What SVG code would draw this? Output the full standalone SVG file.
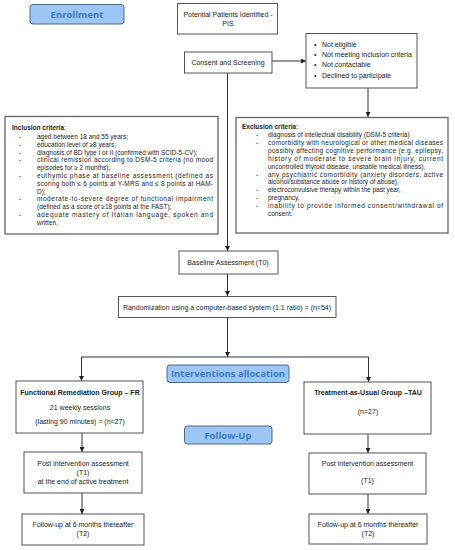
<svg xmlns="http://www.w3.org/2000/svg" width="455" height="550" viewBox="0 0 455 550">
<style>
.bg{fill:#fff}
.box{fill:#fff;stroke:#555;stroke-width:1}
.crit{fill:#fff;stroke:#666;stroke-width:1.3}
.tab{fill:#9dc6f4;stroke:#4a6a8c;stroke-width:1}
.tabt{font-family:"Open Sans","Liberation Sans",sans-serif;font-weight:bold;font-size:9.5px;fill:#3a7cc0;text-anchor:middle}
.t{font-family:"Liberation Sans",Arial,sans-serif;font-size:7px;fill:#222}
.c{text-anchor:middle}
.b{font-weight:bold}
.s{font-family:"Liberation Sans",Arial,sans-serif;font-size:6.5px;fill:#222}
.ln{fill:none;stroke:#333;stroke-width:1}
</style>
<defs>
<marker id="ah" viewBox="0 0 8 8" refX="8" refY="4" markerWidth="5" markerHeight="5" orient="auto" markerUnits="userSpaceOnUse">
<path d="M0,0 L8,4 L0,8 Z" fill="#222"/>
</marker>
</defs>
<rect class="bg" x="0" y="0" width="455" height="550"/>

<g id="connectors">
<line class="ln" x1="272" y1="61" x2="306" y2="61" marker-end="url(#ah)"/>
<line class="ln" x1="368" y1="88" x2="368" y2="117" marker-end="url(#ah)"/>
<line class="ln" x1="227.5" y1="73" x2="227.5" y2="251" marker-end="url(#ah)"/>
<line class="ln" x1="227.5" y1="274" x2="227.5" y2="296" marker-end="url(#ah)"/>
<line class="ln" x1="227.5" y1="317" x2="227.5" y2="357" marker-end="url(#ah)"/>
<polyline class="ln" points="81.5,381 81.5,357 368.5,357 368.5,382"/>
<line class="ln" x1="81.5" y1="370" x2="81.5" y2="381" marker-end="url(#ah)"/>
<line class="ln" x1="368.5" y1="370" x2="368.5" y2="382" marker-end="url(#ah)"/>
<line class="ln" x1="82" y1="433" x2="82" y2="452" marker-end="url(#ah)"/>
<line class="ln" x1="82" y1="493" x2="82" y2="514" marker-end="url(#ah)"/>
<line class="ln" x1="368" y1="434" x2="368" y2="453" marker-end="url(#ah)"/>
<line class="ln" x1="368" y1="494" x2="368" y2="514" marker-end="url(#ah)"/>
</g>

<g id="enrollment">
<rect class="tab" x="30" y="4.5" width="94" height="19.5" rx="3"/>
<text class="tabt" x="77" y="17.5">Enrollment</text>
</g>

<g id="potential">
<rect class="box" x="177.5" y="3.5" width="100" height="30.5"/>
<text class="t c" x="228" y="16.5">Potential Patients Identified -</text>
<text class="t c" x="228" y="25.5">PIS</text>
</g>

<g id="consent">
<rect class="box" x="184.5" y="52" width="87.5" height="21"/>
<text class="t c" x="228" y="65">Consent and Screening</text>
</g>

<g id="excluded">
<rect class="box" x="306" y="33.5" width="111" height="54.5"/>
<g class="t">
<text x="314" y="46.5">•</text><text x="322" y="46.5">Not eligible</text>
<text x="314" y="56.5">•</text><text x="322" y="56.5">Not meeting inclusion criteria</text>
<text x="314" y="67">•</text><text x="322" y="67">Not contactable</text>
<text x="314" y="77.5">•</text><text x="322" y="77.5">Declined to participate</text>
</g>
</g>

<g id="inclusion">
<rect class="crit" x="5" y="116.5" width="213" height="117.5"/>
<g class="s">
<text x="12" y="130"><tspan font-weight="bold">Inclusion criteria</tspan>:</text>
<text x="19" y="139">-</text><text x="37" y="139">aged between 18 and 55 years;</text>
<text x="19" y="146.8">-</text><text x="37" y="146.8">education level of ≥8 years;</text>
<text x="19" y="154.6">-</text><text x="37" y="154.6">diagnosis of BD type I or II (confirmed with SCID-5-CV);</text>
<text x="19" y="162.4">-</text><text x="37" y="162.4" textLength="176" lengthAdjust="spacing">clinical remission according to DSM-5 criteria (no mood</text>
<text x="37" y="170.2">episodes for ≥ 2 months);</text>
<text x="19" y="178">-</text><text x="37" y="178" textLength="176" lengthAdjust="spacing">euthymic phase at baseline assessment (defined as</text>
<text x="37" y="185.8" textLength="176" lengthAdjust="spacing">scoring both ≤ 6 points at Y-MRS and ≤ 8 points at HAM-</text>
<text x="37" y="193.6">D);</text>
<text x="19" y="201.4">-</text><text x="37" y="201.4" textLength="176" lengthAdjust="spacing">moderate-to-severe degree of functional impairment</text>
<text x="37" y="209.2">(defined as a score of ≥18 points at the FAST);</text>
<text x="19" y="217">-</text><text x="37" y="217" textLength="176" lengthAdjust="spacing">adequate mastery of Italian language, spoken and</text>
<text x="37" y="224.8">written.</text>
</g>
</g>

<g id="exclusion">
<rect class="crit" x="236" y="117.5" width="212" height="115.5"/>
<g class="s">
<text x="242" y="128.5"><tspan font-weight="bold">Exclusion criteria</tspan>:</text>
<text x="256" y="137">-</text><text x="268" y="137">diagnosis of intellectual disability (DSM-5 criteria)</text>
<text x="256" y="144.9">-</text><text x="268" y="144.9" textLength="175" lengthAdjust="spacing">comorbidity with neurological or other medical diseases</text>
<text x="268" y="152.8" textLength="175" lengthAdjust="spacing">possibly affecting cognitive performance (e.g. epilepsy,</text>
<text x="268" y="160.7" textLength="175" lengthAdjust="spacing">history of moderate to severe brain injury, current</text>
<text x="268" y="168.6">uncontrolled thyroid disease, unstable medical illness),</text>
<text x="256" y="176.5">-</text><text x="268" y="176.5" textLength="175" lengthAdjust="spacing">any psychiatric comorbidity (anxiety disorders, active</text>
<text x="268" y="184.4">alcohol/substance abuse or history of abuse),</text>
<text x="256" y="192.3">-</text><text x="268" y="192.3">electroconvulsive therapy within the past year,</text>
<text x="256" y="200.2">-</text><text x="268" y="200.2">pregnancy,</text>
<text x="256" y="208.1">-</text><text x="268" y="208.1" textLength="175" lengthAdjust="spacing">inability to provide informed consent/withdrawal of</text>
<text x="268" y="216">consent.</text>
</g>
</g>

<g id="baseline">
<rect class="box" x="179" y="251" width="99" height="23"/>
<text class="t c" x="228" y="265">Baseline Assessment (T0)</text>
</g>

<g id="randomization">
<rect class="box" x="118.5" y="296.5" width="217.5" height="21"/>
<text class="t c" x="227" y="309.5">Randomization using a computer-based system (1:1 ratio) = (n=54)</text>
</g>

<g id="interventions">
<rect class="tab" x="167" y="365" width="122" height="17.5" rx="3"/>
<text class="tabt" x="228" y="377">Interventions allocation</text>
</g>

<g id="followup-tab">
<rect class="tab" x="184.5" y="426" width="87.5" height="18" rx="3"/>
<text class="tabt" x="228" y="438.5">Follow-Up</text>
</g>

<g id="fr">
<rect class="box" x="16" y="381" width="127" height="52"/>
<text class="t c b" x="80" y="394.5">Functional Remediation Group – FR</text>
<text class="t c" x="80" y="409.5">21 weekly sessions</text>
<text class="t c" x="80" y="423.5">(lasting 90 minutes) = (n=27)</text>
</g>

<g id="tau">
<rect class="box" x="304" y="382" width="127" height="52"/>
<text class="t c b" x="368" y="394.5">Treatment-as-Usual Group –TAU</text>
<text class="t c" x="368" y="413.5">(n=27)</text>
</g>

<g id="fr-post">
<rect class="box" x="24" y="452" width="118" height="41"/>
<text class="t c" x="83" y="465.5">Post intervention assessment</text>
<text class="t c" x="83" y="474.5">(T1)</text>
<text class="t c" x="83" y="483.5">at the end of active treatment</text>
</g>

<g id="tau-post">
<rect class="box" x="309" y="453" width="117" height="41"/>
<text class="t c" x="367.5" y="465.5">Post intervention assessment</text>
<text class="t c" x="367.5" y="482.5">(T1)</text>
</g>

<g id="fr-follow">
<rect class="box" x="22" y="514" width="122" height="31"/>
<text class="t c" x="83" y="526.5">Follow-up at 6 months thereafter</text>
<text class="t c" x="83" y="535.5">(T2)</text>
</g>

<g id="tau-follow">
<rect class="box" x="309" y="514" width="118" height="30"/>
<text class="t c" x="368" y="526.5">Follow-up at 6 months thereafter</text>
<text class="t c" x="368" y="535.5">(T2)</text>
</g>
</svg>
